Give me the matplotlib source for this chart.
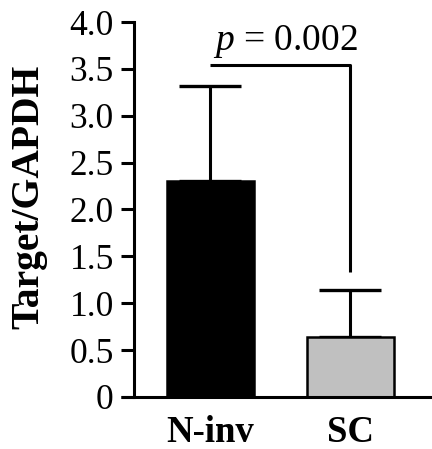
import matplotlib
matplotlib.use("Agg")
import matplotlib.pyplot as plt

categories = ["N-inv", "SC"]
means = [2.30, 0.64]
errors = [1.02, 0.50]
bar_colors = ["#000000", "#c0c0c0"]
p_text = "$p$ = 0.002"
bracket_top = 3.54
bracket_right_bottom = 1.33
yticks = [0, 0.5, 1.0, 1.5, 2.0, 2.5, 3.0, 3.5, 4.0]
ytick_labels = ["0", "0.5", "1.0", "1.5", "2.0", "2.5", "3.0", "3.5", "4.0"]

plt.rcParams['font.family'] = ['Liberation Serif']
plt.rcParams['mathtext.fontset'] = 'custom'
plt.rcParams['mathtext.it'] = 'Liberation Serif:italic'
plt.rcParams['mathtext.rm'] = 'Liberation Serif'

fig = plt.figure(figsize=(4.32, 4.49), dpi=100)
ax = fig.add_axes([0.310, 0.116, 0.69, 0.835])

x = list(range(len(categories)))
ax.bar(x, means, width=0.62, color=bar_colors, edgecolor="black", linewidth=1.8, zorder=2)
ax.errorbar(x, means, yerr=[[0, 0], errors], fmt="none", ecolor="black",
            elinewidth=2.2, capsize=22, capthick=2.4, zorder=1)

# significance bracket
ax.plot([x[0], x[1], x[1]], [bracket_top, bracket_top, bracket_right_bottom],
        color="black", lw=2.2, clip_on=False, solid_capstyle="butt")
ax.text((x[0] + x[1]) / 2 + 0.036, bracket_top + 0.05, p_text, ha="center", va="bottom",
        fontsize=27)

ax.set_xlim(-0.546, 1.582)
ax.set_ylim(0, 4.0)
ax.set_yticks(yticks)
ax.set_yticklabels(ytick_labels, fontsize=25.5)
ax.set_xticks(x)
ax.set_xticklabels(categories, fontsize=26.5, fontweight="bold")
ax.tick_params(axis="y", length=9.5, width=2.2, pad=5)
ax.tick_params(axis="x", length=0, pad=13)
ax.set_ylabel("Target/GAPDH", fontsize=28.5, fontweight="bold")
ax.yaxis.set_label_coords(-0.290, 0.533)

for s in ["top", "right"]:
    ax.spines[s].set_visible(False)
ax.spines["left"].set_linewidth(2.2)
ax.spines["bottom"].set_visible(False)
ax.plot([-0.045, 1.0], [0, 0], transform=ax.transAxes, color="black", lw=2.2,
        clip_on=False, solid_capstyle="butt")

fig.savefig("out.png", dpi=100)
